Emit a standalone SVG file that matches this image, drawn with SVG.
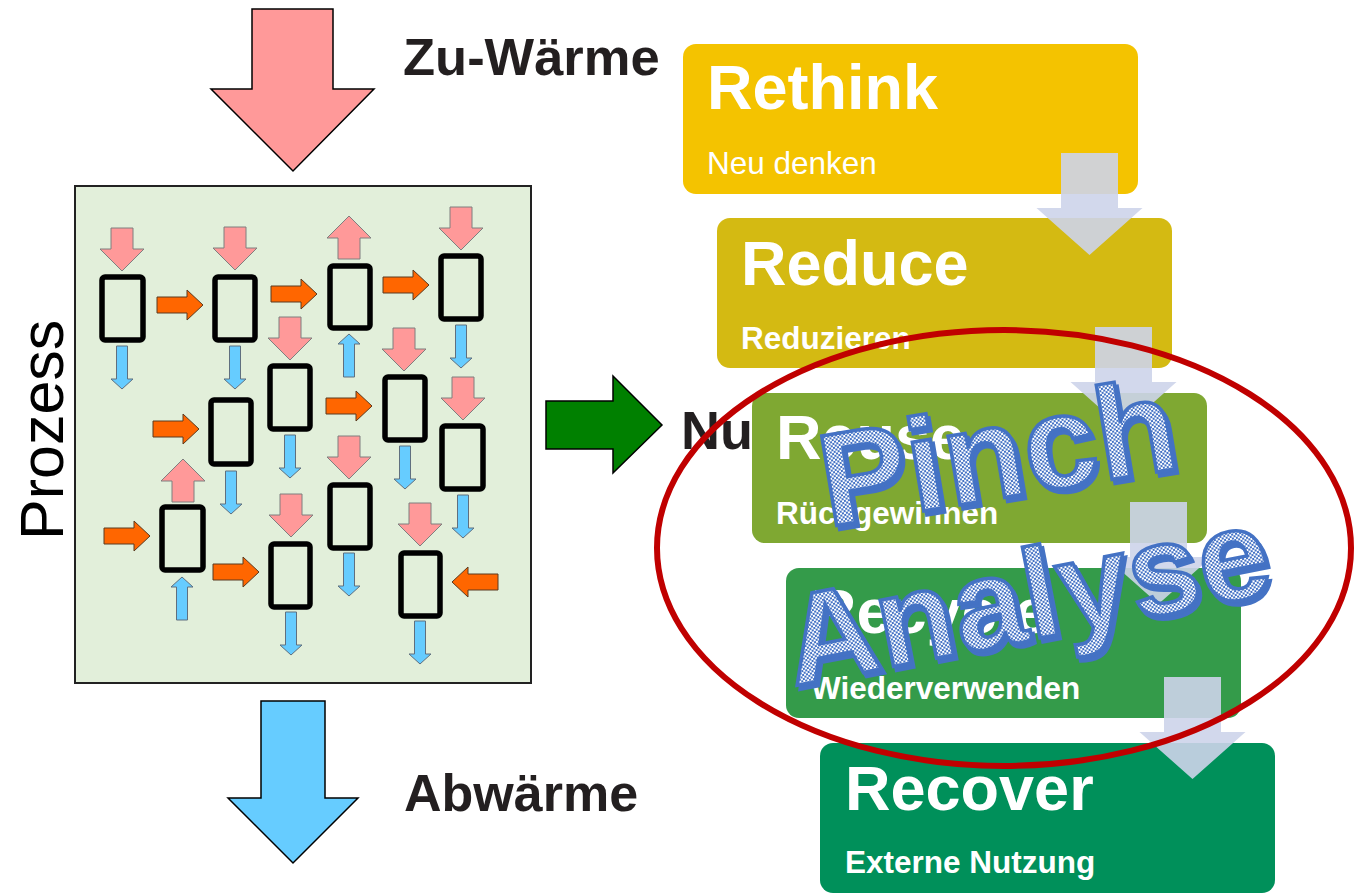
<svg xmlns="http://www.w3.org/2000/svg" xmlns:xlink="http://www.w3.org/1999/xlink" width="1355" height="893" viewBox="0 0 1355 893">
<style>
.lbl{font-family:"Liberation Sans",Arial,sans-serif;font-weight:bold;fill:#231f20}
.ttl{font-family:"Liberation Sans",Arial,sans-serif;font-weight:bold;fill:#fff;font-size:63px}
.sub{font-family:"Liberation Sans",Arial,sans-serif;font-weight:bold;fill:#fff;font-size:31.5px}
.unit{fill:none;stroke:#000;stroke-width:5.5}
.pk{fill:#ff9999;stroke:#7f7f7f;stroke-width:1}
.bl{fill:#66ccff;stroke:#5f6f7f;stroke-width:1}
.or{fill:#ff6600;stroke:#5a3a20;stroke-width:1}
.ga{fill:#cdd4ea;opacity:0.9}
.pa{font-family:"Liberation Sans",Arial,sans-serif;font-weight:bold}
</style>
<defs>
<pattern id="chk" width="4" height="4" patternUnits="userSpaceOnUse">
<rect width="4" height="4" fill="#ffffff"/>
<rect width="2" height="2" fill="#4472c4"/>
<rect x="2" y="2" width="2" height="2" fill="#4472c4"/>
</pattern>
<path id="pkDown" d="M-11,0 H11 V21 H22 L0,43 L-22,21 H-11 Z"/>
<path id="pkUp" d="M-11,43 H11 V22 H22 L0,0 L-22,22 H-11 Z"/>
<path id="blDown" d="M-5.5,0 H5.5 V33 H11 L0,43 L-11,33 H-5.5 Z"/>
<path id="blUp" d="M-5.5,43 H5.5 V10 H11 L0,0 L-11,10 H-5.5 Z"/>
<path id="orR" d="M0,-8 H30 V-15 L46,0 L30,15 V8 H0 Z"/>
<path id="gArrow" d="M-28.5,0 H28.5 V55 H53 L0,102 L-53,55 H-28.5 Z"/>
</defs>
<rect width="1355" height="893" fill="#ffffff"/>

<!-- Big in/out arrows -->
<g id="zuwaerme">
<path d="M252,9 H333 V89 H374 L293,171 L211,89 H252 Z" fill="#ff9999" stroke="#000" stroke-width="1.5"/>
<text class="lbl" x="403" y="75" font-size="52.5">Zu-Wärme</text>
</g>
<g id="abwaerme">
<path d="M261,701 H325 V798 H358 L293,863 L228,798 H261 Z" fill="#66ccff" stroke="#000" stroke-width="1.5"/>
<text class="lbl" x="404" y="811" font-size="52">Abwärme</text>
</g>
<g id="nutzen">
<path d="M546,401 H613 V376 L662,425 L613,473 V449 H546 Z" fill="#008000" stroke="#000" stroke-width="1.5"/>
<text class="lbl" x="681" y="449" font-size="54">Nu</text>
</g>
<text id="prozess-label" transform="translate(63,540) rotate(-90)" font-family="Liberation Sans, Arial, sans-serif" font-size="61" fill="#000">Prozess</text>

<!-- Process box -->
<g id="prozess">
<rect x="75" y="186" width="456" height="497" fill="#e2efda" stroke="#222" stroke-width="2"/>
<g id="units">
<rect id="u1" class="unit" x="102" y="277" width="41" height="63" rx="3"/>
<rect id="u2" class="unit" x="215" y="277" width="40" height="63" rx="3"/>
<rect id="u3" class="unit" x="330" y="266" width="40" height="62" rx="3"/>
<rect id="u4" class="unit" x="441" y="256" width="40" height="63" rx="3"/>
<rect id="u5" class="unit" x="270" y="366" width="40" height="63" rx="3"/>
<rect id="u6" class="unit" x="211" y="400" width="40" height="64" rx="3"/>
<rect id="u7" class="unit" x="385" y="377" width="40" height="63" rx="3"/>
<rect id="u8" class="unit" x="442" y="426" width="41" height="63" rx="3"/>
<rect id="u9" class="unit" x="162" y="507" width="41" height="63" rx="3"/>
<rect id="u10" class="unit" x="330" y="485" width="40" height="63" rx="3"/>
<rect id="u11" class="unit" x="271" y="544" width="39" height="63" rx="3"/>
<rect id="u12" class="unit" x="401" y="553" width="39" height="63" rx="3"/>
</g>
<g id="process-arrows">
<use href="#pkDown" class="pk" x="122" y="228"/>
<use href="#pkDown" class="pk" x="235" y="227"/>
<use href="#pkUp" class="pk" x="349" y="216"/>
<use href="#pkDown" class="pk" x="461" y="207"/>
<use href="#pkDown" class="pk" x="290" y="317"/>
<use href="#pkDown" class="pk" x="404" y="328"/>
<use href="#pkDown" class="pk" x="463" y="377"/>
<use href="#pkUp" class="pk" x="183" y="459"/>
<use href="#pkDown" class="pk" x="349" y="436"/>
<use href="#pkDown" class="pk" x="291" y="494"/>
<use href="#pkDown" class="pk" x="420" y="503"/>

<use href="#blDown" class="bl" x="122" y="346"/>
<use href="#blDown" class="bl" x="235" y="346"/>
<use href="#blUp" class="bl" x="349" y="334"/>
<use href="#blDown" class="bl" x="461" y="325"/>
<use href="#blDown" class="bl" x="231" y="471"/>
<use href="#blDown" class="bl" x="290" y="435"/>
<use href="#blDown" class="bl" x="405" y="446"/>
<use href="#blDown" class="bl" x="463" y="495"/>
<use href="#blUp" class="bl" x="182" y="577"/>
<use href="#blDown" class="bl" x="349" y="553"/>
<use href="#blDown" class="bl" x="291" y="612"/>
<use href="#blDown" class="bl" x="420" y="621"/>

<use href="#orR" class="or" x="157" y="305"/>
<use href="#orR" class="or" x="271" y="294"/>
<use href="#orR" class="or" x="383" y="285"/>
<use href="#orR" class="or" x="326" y="406"/>
<use href="#orR" class="or" x="153" y="429"/>
<use href="#orR" class="or" x="104" y="536"/>
<use href="#orR" class="or" x="213" y="572"/>
<use href="#orR" class="or" transform="translate(498,582) scale(-1,1)"/>
</g>
</g>

<!-- Stages -->
<g id="rethink">
<rect x="683" y="44" width="455" height="150" rx="13" fill="#f4c300"/>
<text class="ttl" x="707" y="109">Rethink</text>
<text x="707" y="174" font-family="Liberation Sans, Arial, sans-serif" font-size="31.5" fill="#fff">Neu denken</text>
</g>
<g id="reduce">
<rect x="717" y="218" width="455" height="150" rx="13" fill="#d4ba12"/>
<text class="ttl" x="741" y="285">Reduce</text>
<text class="sub" x="741" y="349">Reduzieren</text>
</g>
<g id="reuse">
<rect x="752" y="393" width="455" height="150" rx="13" fill="#7fa832"/>
<text class="ttl" x="776" y="459">Reuse</text>
<text class="sub" x="776" y="524">Rückgewinnen</text>
</g>
<g id="recycle">
<rect x="786" y="568" width="455" height="150" rx="13" fill="#349b4a"/>
<text class="ttl" x="811" y="633">Recycle</text>
<text class="sub" x="811" y="699">Wiederverwenden</text>
</g>
<g id="recover">
<rect x="820" y="743" width="455" height="150" rx="13" fill="#00905a"/>
<text class="ttl" x="845" y="810">Recover</text>
<text class="sub" x="845" y="873">Externe Nutzung</text>
</g>

<g id="connectors">
<use href="#gArrow" class="ga" x="1089.5" y="153"/>
<use href="#gArrow" class="ga" x="1123.5" y="327"/>
<use href="#gArrow" class="ga" x="1158.5" y="502"/>
<use href="#gArrow" class="ga" x="1192.5" y="677"/>
</g>

<ellipse id="pinch-ellipse" cx="1004" cy="548" rx="347" ry="218" fill="none" stroke="#c00000" stroke-width="6"/>

<g id="pinch-analyse">
<text class="pa" font-size="132" transform="translate(831,531) rotate(-9.5)" fill="#4472c4" stroke="#4472c4" stroke-width="3.5">Pinch</text>
<text class="pa" font-size="132" transform="translate(828,527) rotate(-9.5)" fill="url(#chk)" stroke="#4472c4" stroke-width="3.5">Pinch</text>
<text class="pa" font-size="128" transform="translate(797,690) rotate(-11)" fill="#4472c4" stroke="#4472c4" stroke-width="3.5">Analyse</text>
<text class="pa" font-size="128" transform="translate(794,686) rotate(-11)" fill="url(#chk)" stroke="#4472c4" stroke-width="3.5">Analyse</text>
</g>
</svg>
